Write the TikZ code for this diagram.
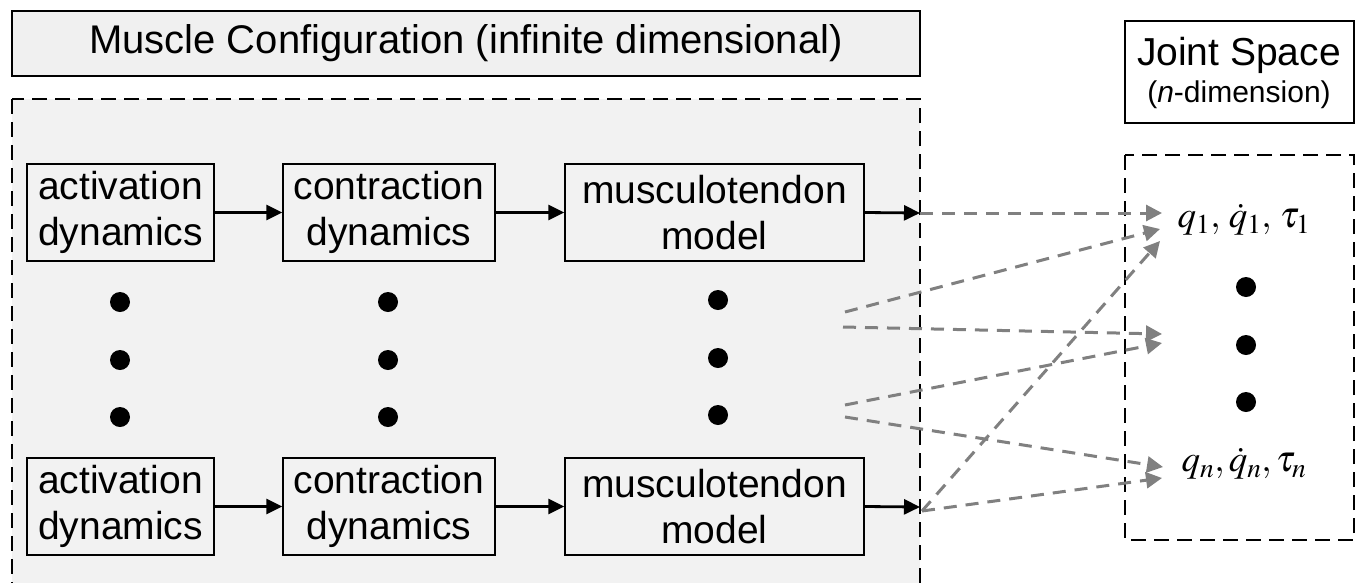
\documentclass[tikz,border=0pt]{standalone}
\usepackage{mathptmx}
\usepackage{fontspec}
\setmainfont{Liberation Sans}
\usetikzlibrary{arrows.meta}
\definecolor{boxgray}{HTML}{F2F2F2}
\definecolor{titlegray}{HTML}{F0F0F0}
\definecolor{linkgray}{HTML}{808080}
\begin{document}
\begin{tikzpicture}[x=1pt,y=-1pt,
  blk/.style={draw=black, line width=1.4pt, fill=boxgray, align=center, inner sep=0pt,
    font=\fontsize{39}{46}\selectfont},
  flow/.style={draw=black, line width=2.8pt, -{Triangle[length=16pt,width=15pt]}},
  link/.style={draw=linkgray, line width=3pt, dash pattern=on 13pt off 9pt,
    -{Triangle[length=16pt,width=16pt,fill=linkgray]}},
  bigdot/.style={circle, fill=black, minimum size=20pt, inner sep=0pt},
  region/.style={draw=black, line width=2pt, dash pattern=on 15pt off 8pt}]
\clip (0,0) rectangle (1358,582);
\fill[white] (0,0) rectangle (1358,582);
% title
\node[draw=black, line width=1.4pt, fill=titlegray, minimum width=908pt, minimum height=65pt,
  inner sep=0pt, font=\fontsize{40}{46}\selectfont] (title) at (466,43.5)
  {Muscle Configuration (infinite dimensional)};
% muscle region
\draw[region, fill=boxgray] (12,99) rectangle (920,600);
% joint space title
\node[draw=black, line width=1.4pt, fill=white, minimum width=229pt, minimum height=102pt,
  inner sep=0pt] (joint) at (1239.5,72) {};
\node[inner sep=0pt, anchor=base, font=\fontsize{39}{46}\selectfont] (jt1) at (1239,65) {Joint Space};
\node[inner sep=0pt, anchor=base, font=\fontsize{30}{36}\selectfont] (jt2) at (1239,102) {(\textit{n}-dimension)};
% joint region
\draw[region] (1125,155) rectangle (1354,540);
% boxes row 1
\node[blk, minimum width=187pt, minimum height=97pt] (a1) at (120.5,212.5) {activation\\dynamics};
\node[blk, minimum width=212pt, minimum height=97pt] (c1) at (389,212.5) {contraction\\dynamics};
\node[blk, minimum width=299pt, minimum height=97pt] (m1) at (714.5,212.5) {musculotendon\\model};
% boxes row n
\node[blk, minimum width=187pt, minimum height=97pt] (a2) at (120.5,506.5) {activation\\dynamics};
\node[blk, minimum width=212pt, minimum height=97pt] (c2) at (389,506.5) {contraction\\dynamics};
\node[blk, minimum width=299pt, minimum height=97pt] (m2) at (714.5,506.5) {musculotendon\\model};
% dots
\foreach \y [count=\i] in {302,360,417}{
  \node[bigdot] (da\i) at (120,\y) {};
  \node[bigdot] (dc\i) at (388,\y) {};
  \node[bigdot] (dm\i) at (718,\y-2) {};
  \node[bigdot] (dj\i) at (1246,\y-15) {};
}
% joint variables
\node[inner sep=0pt, font=\fontsize{37}{40}\selectfont] (q1) at (1244,220) {$q_1,\,\dot q_1,\,\tau_1$};
\node[inner sep=0pt, font=\fontsize{37}{40}\selectfont] (qn) at (1244,464) {$q_n,\dot q_n,\tau_n$};
% flow arrows
\coordinate (o1) at (920,213);
\coordinate (o2) at (920,507);
\draw[flow] (a1) -- (c1);
\draw[flow] (c1) -- (m1);
\draw[flow] (m1.east) -- (o1);
\draw[flow] (a2) -- (c2);
\draw[flow] (c2) -- (m2);
\draw[flow] (m2.east) -- (o2);
% link start / end points
\coordinate (s2) at (845,312);
\coordinate (s4) at (843,327);
\coordinate (s5) at (845,405);
\coordinate (s6) at (845,417);
\coordinate (s7) at (922,511);
\coordinate (t1) at (1162,213);
\coordinate (t2) at (1160,229);
\coordinate (t3) at (1160,241);
\coordinate (t4) at (1162,334);
\coordinate (t5) at (1162,343);
\coordinate (t6) at (1163,467);
\coordinate (t7) at (1162,478);
\draw[link] (o1) -- (t1);
\draw[link] (s2) -- (t2);
\draw[link] (s7) -- (t3);
\draw[link] (s4) -- (t4);
\draw[link] (s5) -- (t5);
\draw[link] (s6) -- (t6);
\draw[link] (s7) -- (t7);
\end{tikzpicture}
\end{document}
